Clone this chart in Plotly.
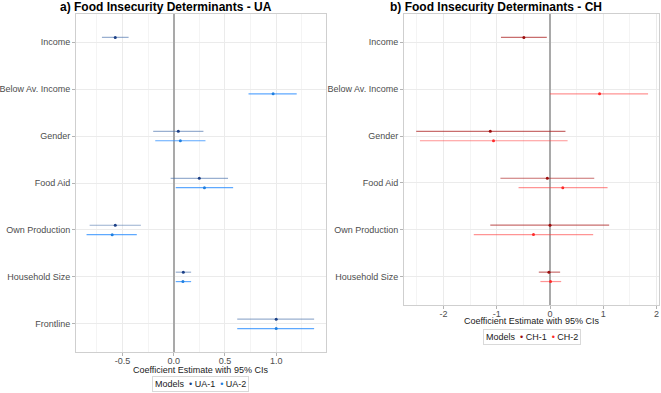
import plotly.graph_objects as go

# ---------------- data ----------------
ua_categories = ["Income", "Below Av. Income", "Gender", "Food Aid",
                 "Own Production", "Household Size", "Frontline"]
# UA-1
ua1_terms = ["Income", "Gender", "Food Aid", "Own Production", "Household Size", "Frontline"]
ua1_est = [-0.57, 0.045, 0.25, -0.57, 0.094, 1.00]
ua1_lo = [-0.70, -0.20, -0.03, -0.82, 0.02, 0.62]
ua1_hi = [-0.44, 0.29, 0.53, -0.32, 0.17, 1.37]
# UA-2
ua2_terms = ["Below Av. Income", "Gender", "Food Aid", "Own Production", "Household Size", "Frontline"]
ua2_est = [0.97, 0.065, 0.30, -0.60, 0.09, 1.00]
ua2_lo = [0.73, -0.18, 0.02, -0.85, 0.02, 0.62]
ua2_hi = [1.20, 0.31, 0.58, -0.36, 0.17, 1.37]

ch_categories = ["Income", "Below Av. Income", "Gender", "Food Aid",
                 "Own Production", "Household Size"]
# CH-1
ch1_terms = ["Income", "Gender", "Food Aid", "Own Production", "Household Size"]
ch1_est = [-0.49, -1.12, -0.05, 0.00, -0.02]
ch1_lo = [-0.92, -2.51, -0.93, -1.12, -0.21]
ch1_hi = [-0.06, 0.29, 0.83, 1.11, 0.19]
# CH-2
ch2_terms = ["Below Av. Income", "Gender", "Food Aid", "Own Production", "Household Size"]
ch2_est = [0.93, -1.06, 0.24, -0.31, 0.01]
ch2_lo = [0.00, -2.44, -0.59, -1.43, -0.18]
ch2_hi = [1.84, 0.33, 1.08, 0.81, 0.21]

ua_xticks = [-0.5, 0.0, 0.5, 1.0]
ua_xticktext = ["-0.5", "0.0", "0.5", "1.0"]
ch_xticks = [-2, -1, 0, 1, 2]
ch_xticktext = ["-2", "-1", "0", "1", "2"]

titles = ["a) Food Insecurity Determinants - UA", "b) Food Insecurity Determinants - CH"]
xlabel = "Coefficient Estimate with 95% CIs"

# ---------------- style ----------------
FONT = "Liberation Sans, Arial, sans-serif"
C_UA1_LINE, C_UA1_PT = "rgba(70,110,170,0.55)", "#1b3f86"
C_UA2_LINE, C_UA2_PT = "rgba(40,140,255,0.75)", "#1f7fe0"
C_CH1_LINE, C_CH1_PT = "rgba(170,30,30,0.65)", "#9c0d0d"
C_CH2_LINE, C_CH2_PT = "rgba(255,60,60,0.55)", "#ff2a2a"
DODGE = 0.1
FS = 9

fig = go.Figure()


def add_model(terms, est, lo, hi, cats, xa, ya, line_c, pt_c, offset):
    n = len(cats)
    ypos = [n - cats.index(t) + offset for t in terms]
    fig.add_trace(go.Scatter(
        x=est, y=ypos, mode="markers", xaxis=xa, yaxis=ya, showlegend=False,
        marker=dict(size=3, color=pt_c),
        error_x=dict(type="data", symmetric=False,
                     array=[h - e for h, e in zip(hi, est)],
                     arrayminus=[e - l for e, l in zip(est, lo)],
                     color=line_c, thickness=1.2, width=0),
        hoverinfo="x+y"))


add_model(ua1_terms, ua1_est, ua1_lo, ua1_hi, ua_categories, "x", "y", C_UA1_LINE, C_UA1_PT, DODGE)
add_model(ua2_terms, ua2_est, ua2_lo, ua2_hi, ua_categories, "x", "y", C_UA2_LINE, C_UA2_PT, -DODGE)
add_model(ch1_terms, ch1_est, ch1_lo, ch1_hi, ch_categories, "x2", "y2", C_CH1_LINE, C_CH1_PT, DODGE)
add_model(ch2_terms, ch2_est, ch2_lo, ch2_hi, ch_categories, "x2", "y2", C_CH2_LINE, C_CH2_PT, -DODGE)

W, H = 661, 393
def px(v):  # horizontal pixel -> paper
    return v / W
def py(v):  # vertical pixel (from top) -> paper
    return 1 - v / H

common_x = dict(showgrid=True, gridcolor="#ebebeb", gridwidth=1, automargin=False,
                minor=dict(showgrid=True, gridcolor="#f4f4f4", gridwidth=0.8),
                zeroline=True, zerolinecolor="#a9a9a9", zerolinewidth=2,
                showline=True, linecolor="#cfcfcf", linewidth=1, mirror=True,
                ticks="outside", ticklen=3, tickcolor="#b3b3b3", ticklabelstandoff=-3,
                tickfont=dict(family=FONT, size=FS, color="#4d4d4d"))
common_y = dict(showgrid=True, gridcolor="#ebebeb", gridwidth=1, zeroline=False, automargin=False,
                showline=True, linecolor="#cfcfcf", linewidth=1, mirror=True,
                ticks="outside", ticklen=3, tickcolor="#b3b3b3",
                tickfont=dict(family=FONT, size=FS, color="#4d4d4d"))

nu, nc = len(ua_categories), len(ch_categories)
fig.update_layout(
    width=W, height=H, margin=dict(l=0, r=0, t=0, b=0, autoexpand=False),
    paper_bgcolor="white", plot_bgcolor="white", showlegend=False,
    xaxis=dict(domain=[px(76), px(325.5)], range=[-0.953, 1.481], anchor="y",
               tickvals=ua_xticks, ticktext=ua_xticktext, **common_x),
    yaxis=dict(domain=[py(352), py(14)], range=[0.4, nu + 0.6], anchor="x",
               tickvals=[nu - i for i in range(nu)], ticktext=ua_categories, **common_y),
    xaxis2=dict(domain=[px(404), px(659)], range=[-2.739, 2.045], anchor="y2",
                tickvals=ch_xticks, ticktext=ch_xticktext, **common_x),
    yaxis2=dict(domain=[py(305), py(14)], range=[0.4, nc + 0.6], anchor="x2",
                tickvals=[nc - i for i in range(nc)], ticktext=ch_categories, **common_y),
)
fig.layout.xaxis.minor.dtick = 0.25
fig.layout.xaxis.minor.tick0 = 0
fig.layout.xaxis2.minor.dtick = 0.5
fig.layout.xaxis2.minor.tick0 = 0

# panel titles
fig.add_annotation(text="<b>" + titles[0] + "</b>", x=px(166), y=py(7), xref="paper", yref="paper",
                   showarrow=False, font=dict(family=FONT, size=12, color="black"),
                   xanchor="center", yanchor="middle")
fig.add_annotation(text="<b>" + titles[1] + "</b>", x=px(496), y=py(7), xref="paper", yref="paper",
                   showarrow=False, font=dict(family=FONT, size=12, color="black"),
                   xanchor="center", yanchor="middle")

# x-axis titles
fig.add_annotation(text=xlabel, x=px(200.5), y=py(369.5), xref="paper", yref="paper",
                   showarrow=False, font=dict(family=FONT, size=FS, color="#1a1a1a"),
                   xanchor="center", yanchor="middle")
fig.add_annotation(text=xlabel, x=px(531.5), y=py(320.5), xref="paper", yref="paper",
                   showarrow=False, font=dict(family=FONT, size=FS, color="#1a1a1a"),
                   xanchor="center", yanchor="middle")

# legends (boxed)
def legend_text(n1, c1, n2, c2):
    return ("Models  <span style='color:%s'>•</span> %s  <span style='color:%s'>•</span> %s"
            % (c1, n1, c2, n2))

fig.add_annotation(text=legend_text("UA-1", C_UA1_PT, "UA-2", C_UA2_PT),
                   x=px(200), y=py(384), xref="paper", yref="paper", showarrow=False,
                   font=dict(family=FONT, size=FS, color="#1a1a1a"),
                   bordercolor="#d9d9d9", borderwidth=1, borderpad=2, bgcolor="white",
                   xanchor="center", yanchor="middle")
fig.add_annotation(text=legend_text("CH-1", C_CH1_PT, "CH-2", C_CH2_PT),
                   x=px(532), y=py(337), xref="paper", yref="paper", showarrow=False,
                   font=dict(family=FONT, size=FS, color="#1a1a1a"),
                   bordercolor="#d9d9d9", borderwidth=1, borderpad=2, bgcolor="white",
                   xanchor="center", yanchor="middle")

fig.write_html("out.html", config={"displayModeBar": False},
               post_script="document.body.style.margin='0';")
